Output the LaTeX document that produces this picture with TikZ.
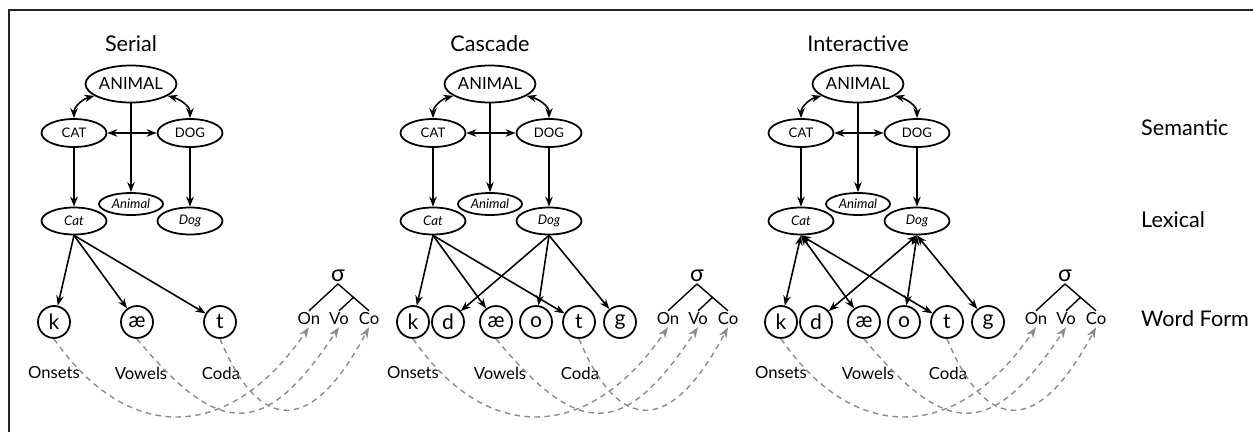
\documentclass[tikz,border=0pt]{standalone}
\usepackage{fontspec}
\setmainfont{Lato}
\usetikzlibrary{arrows.meta,calc,shapes.geometric}
\definecolor{dashgray}{HTML}{8C8C8C}
\tikzstyle{sem} = [draw, ellipse, line width=1pt, inner sep=0pt,
  minimum width=13mm, minimum height=5.6mm, font=\fontsize{7.5}{9}\selectfont]
\tikzstyle{lex} = [sem, minimum height=5.4mm, font=\fontsize{7.5}{9}\selectfont\itshape]
\tikzstyle{phon} = [draw, circle, line width=1pt, inner sep=0pt,
  minimum size=6.4mm, font=\fontsize{12}{14}\selectfont]
\tikzstyle{slot} = [inner sep=1pt, font=\fontsize{9.5}{11}\selectfont]
\tikzstyle{head} = [font=\fontsize{12.3}{15}\selectfont]
\tikzstyle{arrow} = [line width=0.9pt, -{Stealth[length=2mm,width=1.5mm]}]
\tikzstyle{twoway} = [line width=0.9pt,
  {Stealth[length=2mm,width=1.5mm]}-{Stealth[length=2mm,width=1.5mm]}]
\tikzstyle{route} = [dashgray, line width=0.8pt, dash pattern=on 1.1mm off 0.9mm,
  -{Stealth[length=2.2mm,width=1.6mm]}]

% shared part of one model: #1 name prefix, #2 title
\newcommand{\drawmodel}[2]{
  \node[head] (#1title) at (131,-44) {#2};
  \node[sem, minimum width=18.2mm, minimum height=7.4mm,
    font=\fontsize{9.5}{11}\selectfont] (#1animal) at (131,-84) {ANIMAL};
  \node[sem] (#1cat) at (74,-133) {CAT};
  \node[sem] (#1dog) at (190,-133) {DOG};
  \node[lex, minimum width=12.8mm, minimum height=4.4mm] (#1animall) at (131,-204) {Animal};
  \node[lex] (#1catl) at (74,-221) {Cat};
  \node[lex] (#1dogl) at (190,-221) {Dog};
  \draw[twoway] (#1animal.198) to[out=195,in=90] (#1cat.north);
  \draw[twoway] (#1animal.-18) to[out=-15,in=90] (#1dog.north);
  \draw[twoway] (#1cat) -- (#1dog);
  \draw[arrow] (#1animal) -- (#1animall);
  \draw[arrow] (#1cat) -- (#1catl);
  \draw[arrow] (#1dog) -- (#1dogl);
  \node[phon] (#1k) at (54,-322) {k};
  \node[phon] (#1ae) at (137,-322) {æ};
  \node[phon] (#1t) at (220,-322) {t};
  \node[font=\fontsize{13}{15}\selectfont, inner sep=1pt] (#1sig) at (338,-276) {σ};
  \node[slot] (#1on) at (309,-319) {On};
  \node[slot] (#1vo) at (339,-319) {Vo};
  \node[slot] (#1co) at (369,-319) {Co};
  \coordinate (#1rh) at ($(#1sig.south)!0.5!(#1co.north)$);
  \draw[line width=0.8pt] (#1sig.south) -- (#1on.north)
    (#1sig.south) -- (#1co.north) (#1rh) -- (#1vo.north);
  \node[slot] (#1ons) at (54,-373) {Onsets};
  \node[slot] (#1vow) at (141,-373) {Vowels};
  \node[slot] (#1cod) at (221,-373) {Coda};
  \draw[route] (#1k.south) .. controls (127,-444) and (229,-444) .. (#1on.south);
  \draw[route] (#1ae.south) .. controls (220,-439) and (265,-439) .. (#1vo.south);
  \draw[route] (#1t.south) .. controls (260,-435) and (312,-435) .. (#1co.south);
}

\begin{document}
\begin{tikzpicture}[x=0.2mm, y=0.2mm]
    \useasboundingbox (0,0) rectangle (1253,-432);
    \draw[line width=1pt, black!85] (9,-432) -- (9,-10) -- (1253,-10);

    % serial
    \begin{scope}
        \drawmodel{S}{Serial}
        \draw[arrow] (Scatl.south) -- (Sk);
        \draw[arrow] (Scatl.south) -- (Sae);
        \draw[arrow] (Scatl.south) -- (St);
    \end{scope}

    % cascade
    \begin{scope}[shift={(359,0)}]
        \drawmodel{C}{Cascade}
        \node[phon] (Cd) at (89,-322) {d};
        \node[phon] (Co) at (177,-322) {o};
        \node[phon] (Cg) at (261,-322) {g};
        \draw[arrow] (Ccatl.south) -- (Ck);
        \draw[arrow] (Ccatl.south) -- (Cae);
        \draw[arrow] (Ccatl.south) -- (Ct);
        \draw[arrow] (Cdogl.south) -- (Cd);
        \draw[arrow] (Cdogl.south) -- (Co);
        \draw[arrow] (Cdogl.south) -- (Cg);
    \end{scope}

    % interactive
    \begin{scope}[shift={(727,0)}]
        \drawmodel{I}{Interactive}
        \node[phon] (Id) at (89,-322) {d};
        \node[phon] (Io) at (177,-322) {o};
        \node[phon] (Ig) at (261,-322) {g};
        \draw[twoway] (Icatl.south) -- (Ik);
        \draw[twoway] (Icatl.south) -- (Iae);
        \draw[twoway] (Icatl.south) -- (It);
        \draw[twoway] (Idogl.south) -- (Id);
        \draw[twoway] (Idogl.south) -- (Io);
        \draw[twoway] (Idogl.south) -- (Ig);
    \end{scope}

    \node[head, anchor=west] (semantic) at (1135,-128) {Semantic};
    \node[head, anchor=west] (lexical) at (1135,-220) {Lexical};
    \node[head, anchor=west] (wordform) at (1135,-319) {Word Form};
\end{tikzpicture}
\end{document}
